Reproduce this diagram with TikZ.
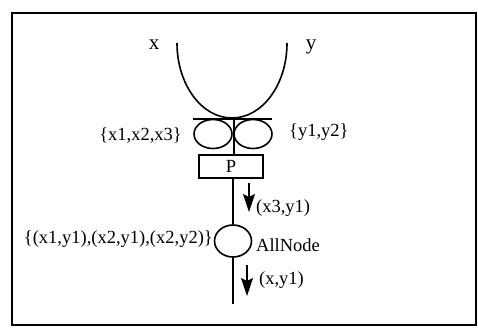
\documentclass[tikz,border=0pt]{standalone}
\usepackage{fontspec}
\setmainfont{Liberation Serif}
\usetikzlibrary{arrows.meta,shapes.geometric}
\begin{document}
\begin{tikzpicture}[x=1pt,y=-1pt,
  ln/.style={line width=1.6pt},
  lbl/.style={font=\fontsize{18.5}{20}\selectfont, inner sep=0pt},
  ell/.style={draw, ellipse, line width=1.6pt, inner sep=0pt},
  flow/.style={line width=1.6pt,-{Stealth[length=18pt,width=12pt,inset=3pt]}}]
\useasboundingbox (0,0) rectangle (478,330);
% frame
\draw[line width=2pt] (12,13) rectangle (476,325);
% U-shaped join
\draw[ln] (177,43) arc[start angle=180, end angle=0, x radius=55, y radius=75];
\node[lbl, font=\fontsize{21}{22}\selectfont] (lx) at (154,45) {x};
\node[lbl, font=\fontsize{21}{22}\selectfont] (ly) at (311,47) {y};
% horizontal bar
\coordinate (bl) at (193,119);
\coordinate (br) at (272,119);
\coordinate (bm) at (234,119);
\draw[ln] (bl) -- (br);
% two ellipses
\node[ell, minimum width=38pt, minimum height=29pt] (e1) at (213,134) {};
\node[ell, minimum width=38pt, minimum height=29pt] (e2) at (253,134) {};
\node[lbl, anchor=east] (s1) at (182,135) {\{x1,x2,x3\}};
\node[lbl, anchor=west] (s2) at (289,132) {\{y1,y2\}};
% box P
\node[draw, ln, minimum width=64pt, minimum height=23pt, inner sep=0pt, lbl] (P) at (231,166.5) {P};
\draw[ln] (bm) -- (bm |- P.north);
% AllNode
\node[ell, minimum width=37pt, minimum height=32pt] (A) at (233,241) {};
\coordinate (end) at (233,304);
\draw[ln] (P.south -| A) -- (A.north);
\draw[ln] (A.south) -- (end);
\node[lbl, anchor=west] (an) at (256,245) {AllNode};
\node[lbl, anchor=east] (al) at (213,239) {\{(x1,y1),(x2,y1),(x2,y2)\}};
% arrows
\coordinate (a1s) at (249,183);
\coordinate (a1e) at (249,212);
\draw[flow] (a1s) -- (a1e);
\node[lbl, anchor=west] (l1) at (256,208) {(x3,y1)};
\coordinate (a2s) at (247,265);
\coordinate (a2e) at (247,296);
\draw[flow] (a2s) -- (a2e);
\node[lbl, anchor=west] (l2) at (259,280) {(x,y1)};
\end{tikzpicture}
\end{document}
